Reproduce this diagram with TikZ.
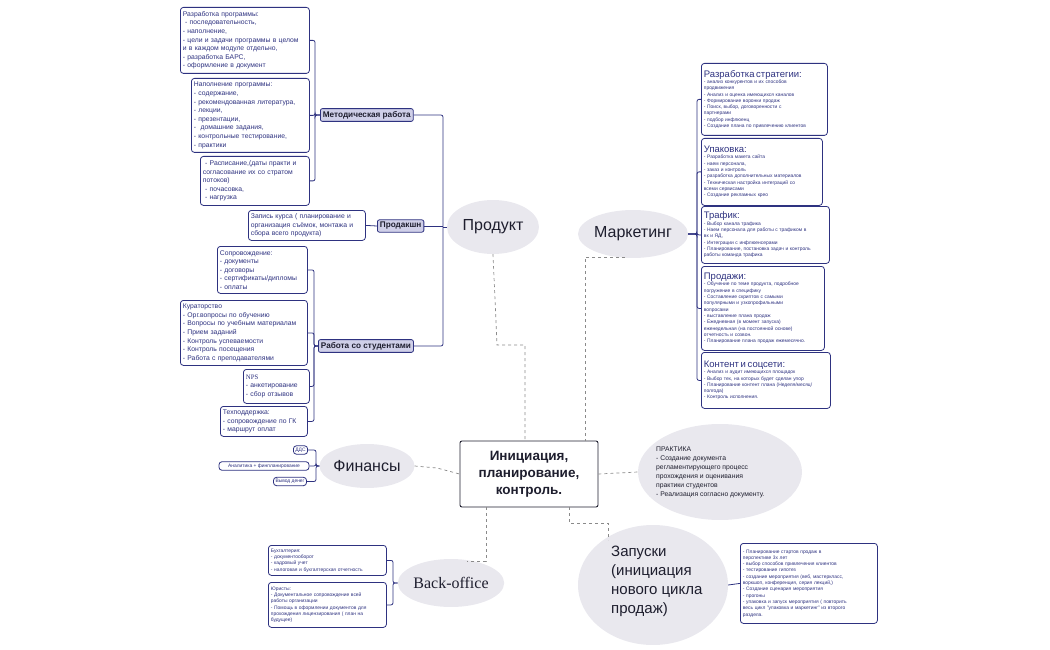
\documentclass[tikz,border=0pt]{standalone}
\usepackage{fontspec}
\setmainfont{Liberation Sans}
\newfontfamily\serif{Liberation Serif}
\usetikzlibrary{calc,shapes.geometric}
\definecolor{navy}{HTML}{2E3280}
\definecolor{lab}{HTML}{CFCFE8}
\definecolor{ell}{HTML}{E9E8EE}
\definecolor{dashc}{HTML}{8A8A8A}
\definecolor{ink}{HTML}{1E1E2E}
\tikzset{
 box/.style={draw=navy, rounded corners=3pt, line width=0.8pt, fill=white, align=left, anchor=north west, inner sep=2.5pt, text=navy},
 lbl/.style={draw=navy, rounded corners=2pt, line width=0.8pt, fill=lab, font=\bfseries\fontsize{8.2}{9}\selectfont, text=ink, inner sep=2.5pt},
 bub/.style={ellipse, fill=ell, text=ink, inner sep=0pt},
 link/.style={navy, line width=0.8pt, rounded corners=2pt},
 dl/.style={dashc, dashed, line width=0.7pt},
 f7/.style={font=\fontsize{6.8}{8.6}\selectfont},
 f5/.style={font=\fontsize{4.9}{6.3}\selectfont},
}
\begin{document}
\begin{tikzpicture}[x=1pt,y=-1pt]
\useasboundingbox (0,0) rectangle (1050,650);
% central
\node[draw=ink, line width=0.9pt, rounded corners=2pt, fill=white, minimum width=138, minimum height=66, align=center, font=\bfseries\fontsize{13.5}{17}\selectfont, text=ink] (c) at (529,474) {Инициация,\\планирование,\\контроль.};
% bubbles
\node[bub, minimum width=92, minimum height=54, font=\fontsize{16}{17}\selectfont] (prod) at (493,227) {Продукт};
\node[bub, minimum width=104, minimum height=48, font=\fontsize{16}{17}\selectfont] (mkt) at (633,234) {Маркетинг};
\node[bub, minimum width=92, minimum height=44, font=\fontsize{16}{17}\selectfont] (fin) at (367,466) {Финансы};
\node[bub, minimum width=106, minimum height=48, font=\serif\fontsize{16}{18}\selectfont] (bo) at (451,583) {Back-office};
\node[bub, minimum width=164, minimum height=96] (pr) at (720,472) {};
\node[anchor=north west, align=left, text=ink, font=\fontsize{6.8}{8.9}\selectfont, inner sep=0pt] (prt) at (656,447) {ПРАКТИКА\\- Создание документа\\регламентирующего процесс\\прохождения и оценивания\\практики студентов\\- Реализация согласно документу.};
\node[bub, minimum width=150, minimum height=120] (zap) at (653,585) {};
\node[anchor=north west, align=left, text=ink, font=\fontsize{15}{19}\selectfont, inner sep=0pt] (zapt) at (611,546) {Запуски\\(инициация\\нового цикла\\продаж)};
% dashed connectors
\coordinate (mk) at (625,257);
\coordinate (bk) at (467,561);
\draw[dl] (prod.south) -- (497,345) -- (525,345) -- (525,441);
\draw[dl] (mk) -- (585,257) -- (585,441);
\draw[dl] (fin.east) -- (437,468) -- (c.west);
\draw[dl] (486,507) -- (486,561) -- (bk);
\draw[dl] (c.east) -- (pr.west);
\draw[dl] (569,507) -- (569,523) -- (608,523) -- (608,540);
% labels
\node[lbl, anchor=west] (met) at (320,115) {Методическая работа};
\node[lbl, anchor=west] (pdk) at (377,226) {Продакшн};
\node[lbl, anchor=west] (st) at (318,346) {Работа со студентами};
\draw[link] (prod.west) -- (443,227);
\draw[link] (met.east) -- (443,115) -- (443,346) -- (st.east);
\draw[link] (pdk.east) -- (443,226);
% Методическая children
\node[box, f7, text width=124, minimum height=66] (m1) at (180,7) {Разработка программы:\\\ - последовательность,\\- наполнение,\\- цели и задачи программы в целом\\и в каждом модуле отдельно,\\- разработка БАРС,\\- оформление в документ};
\node[box, f7, text width=113, minimum height=74] (m2) at (191,78) {Наполнение программы:\\- содержание,\\- рекомендованная литература,\\- лекции,\\- презентации,\\-\ \ домашние задания,\\- контрольные тестирование,\\- практики};
\node[box, f7, text width=104, minimum height=49] (m3) at (200,156) {\ - Расписание,(даты практи и\\согласование их со стратом\\потоков)\\\ - почасовка,\\\ - нагрузка};
\foreach \n in {m1,m2,m3} \draw[link] (\n.east) -| (315,115) -- (met.west);
\node[box, f7, text width=112, minimum height=30] (p1) at (248,210) {Запись курса ( планирование и\\организация съёмок, монтажа и\\сбора всего продукта)};
\draw[link] (p1.east) -- (pdk.west);
% студенты children
\node[box, f7, text width=85, minimum height=47] (s1) at (217,246) {Сопровождение:\\- документы\\- договоры\\- сертификаты/дипломы\\- оплаты};
\node[box, f7, text width=122, minimum height=65] (s2) at (180,300) {Кураторство\\- Орг.вопросы по обучению\\- Вопросы по учебным материалам\\- Прием заданий\\- Контроль успеваемости\\- Контроль посещения\\- Работа с преподавателями};
\node[box, f7, text width=61, minimum height=34] (s3) at (243,369) {{\serif NPS}\\- анкетирование\\- сбор отзывов};
\node[box, f7, text width=82, minimum height=30] (s4) at (220,406) {Техподдержка:\\- сопровождение по ГК\\- маршрут оплат};
\foreach \n in {s1,s2,s3,s4} \draw[link] (\n.east) -| (314,346) -- (st.west);
% финансы children
\node[box, f5, anchor=center, inner sep=2pt] (f1) at (300.5,450) {ДДС};
\node[box, f5, anchor=center, inner sep=2pt, minimum width=90] (f2) at (264,466) {Аналитика + финпланирование};
\node[box, f5, anchor=center, inner sep=2pt] (f3) at (290,481.5) {Вывод денег};
\foreach \n in {f1,f2,f3} \draw[link] (\n.east) -| (316,466) -- (fin.west);
% маркетинг children
\node[box, f5, text width=121, minimum height=72] (k1) at (701,63) {{\fontsize{9.5}{10.5}\selectfont Разработка стратегии:}\\- анализ конкурентов и их способов\\продвижения\\- Анализ и оценка имеющихся каналов\\- Формирование воронки продаж\\- Поиск, выбор, договоренности с\\партнерами\\- подбор инфлюенц\\- Создание плана по привлечению клиентов};
\node[box, f5, text width=116, minimum height=67] (k2) at (701,138) {{\fontsize{9.5}{10.5}\selectfont Упаковка:}\\- Разработка макета сайта\\- наем персонала,\\- заказ и контроль\\- разработка дополнительных материалов\\- Техническая настройка интеграций со\\всеми сервисами\\- Создание рекламных крео};
\node[box, f5, text width=123, minimum height=57] (k3) at (701,206) {{\fontsize{9.5}{10.5}\selectfont Трафик:}\\- Выбор канала трафика\\- Наем персонала для работы с трафиком в\\вк и ЯД,\\- Интеграции с инфлюенсерами\\- Планирование, постановка задач и контроль\\работы команда трафика};
\node[box, f5, text width=118, minimum height=84] (k4) at (701,266) {{\fontsize{9.5}{10.5}\selectfont Продажи:}\\- Обучение по теме продукта, подробное\\погружение в специфику\\- Составление скриптов с самыми\\популярными и узкопрофильными\\вопросами\\- выставление плана продаж\\- Ежедневная (в момент запуска)\\еженедельная (на постоянной основе)\\отчетность и созвон.\\- Планирование плана продаж ежемесячно.};
\node[box, f5, text width=124, minimum height=56] (k5) at (701,352) {{\fontsize{9.5}{10.5}\selectfont Контент и соцсети:}\\- Анализ и аудит имеющихся площадок\\- Выбор тех, на которых будет сделан упор\\- Планирование контент плана (Неделя/месяц/\\полгода)\\- Контроль исполнения.};
\foreach \n in {k1,k2,k3,k4,k5} \draw[link] (\n.west) -| (697,234) -- (mkt.east);
% back-office children
\node[box, f5, text width=113, minimum height=30] (b1) at (268,545) {Бухгалтерия:\\- документооборот\\- кадровый учет\\- налоговая и бухгалтерская отчетность};
\node[box, f5, text width=113, minimum height=45] (b2) at (268,582) {Юристы:\\- Документальное сопровождение всей\\работы организации\\- Помощь в оформлении документов для\\прохождения лицензирования ( план на\\будущее)};
\foreach \n in {b1,b2} \draw[link] (\n.east) -| (393,583) -- (bo.west);
% запуски child
\node[box, f5, text width=132, minimum height=80] (z1) at (740,543) {- Планирование стартов продаж в\\перспективе 3х лет\\- выбор способов привлечения клиентов\\- тестирование гипотез\\- создание мероприятия (веб, мастеркласс,\\воркшоп, конференция, серия лекций,)\\- Создание сценария мероприятия\\- прогоны\\- упаковка и запуск мероприятия ( повторить\\весь цикл "упаковка и маркетинг" из второго\\раздела.};
\draw[link] (zap.east) -- (z1.west);
\end{tikzpicture}
\end{document}
